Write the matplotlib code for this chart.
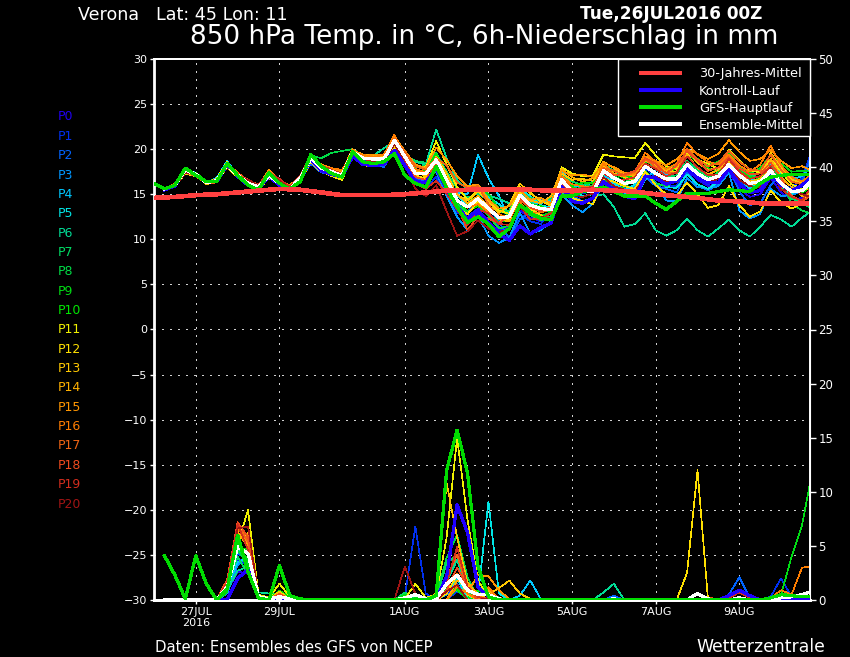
import matplotlib
matplotlib.use("Agg")
import matplotlib.pyplot as plt
from matplotlib.lines import Line2D
from matplotlib.patches import Rectangle

plt.rcParams['lines.antialiased'] = False
plt.rcParams['font.family'] = ['DejaVu Sans']
plt.rcParams['axes.unicode_minus'] = True

W, H = 850, 657
L, R, T, B = 154, 810, 59, 600

hours_gfs = list(range(0, 384, 6))
hours = list(range(6, 384, 6))

clim_hours = [0, 12, 24, 36, 48, 60, 72, 84, 96, 108, 120, 132, 144, 156, 168, 180, 192, 204, 216, 228, 240, 252,
              264, 276, 288, 300, 312, 324, 336, 348, 360, 372, 378]
clim = [14.6, 14.7, 14.9, 15.0, 15.2, 15.4, 15.6, 15.5, 15.2, 14.9, 14.9, 14.9, 15.0, 15.2, 15.4, 15.5, 15.5,
        15.5, 15.5, 15.4, 15.4, 15.5, 15.4, 15.3, 15.0, 14.8, 14.6, 14.3, 14.2, 14.0, 14.0, 14.0, 14.0]

gfs_t = [16.2, 15.6, 16.0, 17.9, 17.1, 16.4, 16.4, 18.4, 17.1, 16.0, 15.5, 17.4, 16.2, 15.6, 16.4, 19.4, 18.1, 17.3,
         16.9, 19.7, 18.6, 18.4, 18.6, 19.5, 17.1, 16.2, 15.8, 18.1, 15.7, 13.6, 11.9, 12.5, 11.7, 10.3, 11.2, 13.8,
         12.9, 12.3, 12.2, 14.8, 14.8, 15.3, 15.5, 15.8, 15.3, 14.8, 14.8, 14.8, 14.0, 13.3, 14.2, 15.1, 15.1, 15.1,
         15.3, 15.5, 15.4, 15.3, 16.2, 16.9, 17.1, 17.2, 17.2, 17.2]
mean_t = [15.6, 16.0, 17.7, 17.2, 16.3, 16.5, 18.3, 17.1, 16.2, 15.8, 17.1, 16.2, 15.6, 16.8, 19.0, 17.9, 17.5, 17.1,
          19.7, 19.0, 18.9, 18.9, 21.0, 19.2, 17.3, 17.3, 18.8, 16.6, 14.3, 13.6, 14.5, 13.4, 12.4, 12.5, 14.9, 13.8,
          13.4, 13.3, 16.6, 15.3, 15.3, 15.3, 17.6, 16.8, 16.2, 16.4, 18.1, 17.3, 16.7, 16.7, 18.3, 17.3, 16.6, 17.0,
          18.3, 17.1, 16.2, 16.4, 17.6, 16.2, 15.3, 15.4, 16.6]
ctrl_t = [15.5, 15.9, 17.8, 17.1, 16.4, 16.4, 18.3, 17.0, 16.0, 15.6, 17.0, 16.0, 15.5, 16.7, 18.9, 17.6, 17.2, 16.9,
          19.2, 18.3, 18.2, 18.3, 19.9, 18.2, 16.4, 16.3, 17.9, 15.6, 13.6, 12.3, 13.2, 11.9, 10.6, 9.9, 11.5, 10.6,
          11.3, 11.8, 15.9, 14.2, 14.0, 14.6, 16.4, 15.5, 14.8, 14.5, 17.0, 16.8, 16.1, 16.5, 17.8, 16.9, 16.3, 16.3,
          17.8, 16.1, 15.2, 15.4, 17.3, 16.0, 15.4, 16.0, 17.0]

P0_t = [15.5, 15.9, 17.6, 17.3, 16.2, 16.4, 18.4, 17.0, 16.1, 15.7, 17.0, 16.1, 15.5, 16.7, 18.9, 17.7, 17.3, 16.9,
        19.5, 18.7, 18.5, 18.6, 20.3, 18.6, 16.6, 16.5, 17.8, 15.3, 13.2, 12.0, 12.8, 11.8, 11.0, 11.3, 13.2, 12.4,
        12.0, 12.6, 15.5, 14.2, 14.0, 14.6, 16.6, 15.9, 15.3, 15.6, 17.2, 16.2, 15.8, 16.0, 17.7, 16.6, 15.9, 16.2,
        17.5, 15.6, 14.7, 15.0, 16.8, 15.2, 14.4, 14.6, 15.5]
P1_t = [15.7, 16.1, 17.8, 17.0, 16.4, 16.6, 18.2, 17.2, 16.3, 15.8, 17.3, 16.1, 15.7, 16.9, 18.8, 17.8, 17.4, 17.1,
        19.9, 18.8, 18.8, 18.9, 20.7, 19.0, 16.8, 15.7, 16.9, 15.0, 13.0, 12.5, 13.4, 12.8, 11.4, 10.2, 12.8, 12.0,
        11.7, 13.1, 16.2, 14.6, 15.1, 15.4, 17.4, 16.3, 15.8, 15.9, 17.9, 16.9, 16.0, 15.9, 17.9, 16.8, 16.1, 16.7,
        18.0, 16.4, 15.7, 15.9, 17.0, 16.1, 15.6, 16.8, 20.0]
P2_t = [15.6, 16.1, 17.5, 17.1, 16.5, 16.5, 18.6, 17.2, 16.0, 15.9, 17.2, 16.3, 15.6, 16.6, 18.4, 17.4, 17.3, 17.0,
        19.6, 18.4, 18.6, 18.0, 20.0, 18.2, 16.9, 16.3, 18.2, 16.2, 14.1, 13.0, 14.6, 13.5, 12.0, 10.0, 12.2, 13.0,
        14.4, 14.3, 17.2, 14.9, 14.2, 14.6, 16.8, 15.2, 14.8, 15.4, 17.0, 15.9, 15.6, 15.2, 17.4, 16.1, 15.4, 16.1,
        18.2, 15.3, 13.8, 14.0, 16.0, 17.3, 17.0, 16.4, 19.6]
P3_t = [15.4, 16.0, 17.7, 17.4, 16.1, 16.7, 18.5, 16.9, 16.4, 16.0, 17.2, 16.4, 15.3, 16.9, 18.6, 18.1, 17.6, 17.3,
        19.4, 18.6, 18.3, 18.7, 20.5, 18.9, 17.0, 16.7, 17.5, 14.8, 12.5, 11.0, 12.6, 10.4, 9.6, 10.2, 13.0, 10.6,
        11.0, 12.0, 15.0, 13.8, 13.0, 14.0, 16.2, 16.0, 15.6, 15.8, 17.6, 16.3, 14.3, 14.2, 16.8, 15.8, 15.6, 15.9,
        17.4, 13.2, 12.3, 12.8, 15.6, 14.8, 14.9, 15.3, 17.4]
P4_t = [15.6, 16.2, 17.9, 17.0, 16.3, 16.8, 18.7, 17.0, 16.2, 15.4, 17.2, 16.3, 15.3, 16.9, 18.7, 17.9, 17.8, 17.4,
        19.8, 19.1, 18.8, 19.0, 20.6, 19.0, 17.4, 17.5, 18.5, 16.2, 15.2, 15.0, 19.4, 16.8, 14.8, 12.3, 15.1, 14.0,
        14.0, 14.3, 17.6, 16.0, 15.8, 16.4, 17.2, 16.2, 15.2, 14.6, 16.6, 17.7, 17.2, 16.6, 18.5, 17.6, 17.0, 16.8,
        18.4, 16.7, 15.6, 16.3, 18.4, 17.3, 16.6, 17.0, 18.2]
P5_t = [15.6, 16.0, 17.6, 17.3, 16.3, 16.4, 18.3, 17.1, 16.3, 15.9, 16.9, 16.2, 15.8, 16.8, 18.9, 17.9, 17.6, 17.0,
        19.9, 19.2, 19.1, 19.1, 20.5, 19.1, 17.6, 17.1, 19.2, 16.9, 14.8, 13.9, 15.7, 14.7, 13.9, 13.0, 15.6, 14.8,
        13.8, 13.5, 17.0, 15.7, 14.8, 15.0, 17.9, 16.3, 15.4, 16.1, 18.3, 17.0, 15.8, 15.7, 17.2, 16.1, 15.6, 16.4,
        18.6, 17.7, 16.6, 16.6, 18.7, 15.7, 15.0, 15.9, 16.3]
P6_t = [15.7, 16.1, 17.9, 17.2, 16.2, 16.3, 18.2, 17.3, 16.1, 15.6, 17.3, 16.3, 15.5, 16.6, 19.2, 18.1, 17.6, 17.2,
        19.8, 19.2, 19.3, 20.1, 20.9, 19.4, 18.6, 18.3, 22.2, 19.0, 16.6, 15.5, 15.6, 14.9, 14.5, 14.0, 15.4, 14.2,
        13.3, 13.0, 15.2, 14.4, 14.0, 14.7, 15.0, 13.6, 11.4, 11.7, 12.9, 11.0, 10.4, 11.0, 12.3, 11.0, 10.3, 11.2,
        12.2, 11.0, 10.3, 11.4, 12.7, 12.2, 11.4, 12.4, 13.2]
P7_t = [15.5, 16.0, 17.8, 17.1, 16.5, 16.6, 18.4, 17.2, 16.2, 15.9, 17.0, 16.1, 15.7, 16.9, 19.1, 18.2, 17.5, 17.1,
        19.6, 19.1, 19.2, 18.8, 20.8, 19.3, 18.7, 18.5, 19.6, 17.5, 15.6, 14.6, 15.1, 14.3, 13.0, 13.2, 15.3, 14.6,
        14.3, 14.5, 17.2, 16.4, 16.0, 16.3, 18.3, 17.6, 17.0, 17.2, 18.9, 17.9, 16.9, 17.1, 18.7, 17.8, 17.0, 17.3,
        19.0, 17.7, 17.1, 16.9, 18.2, 15.8, 14.5, 14.1, 13.3]
P8_t = [15.6, 16.1, 17.7, 17.3, 16.4, 16.5, 18.2, 17.1, 16.3, 15.7, 17.1, 16.4, 15.6, 16.8, 19.3, 19.0, 19.6, 19.8,
        20.0, 19.3, 19.4, 18.9, 20.9, 19.1, 17.9, 18.2, 18.7, 16.4, 13.9, 12.9, 14.0, 12.6, 11.2, 11.5, 13.9, 12.7,
        12.1, 12.6, 16.3, 15.4, 15.8, 16.0, 17.2, 17.0, 16.4, 16.6, 17.6, 16.2, 15.9, 16.5, 18.4, 17.5, 16.8, 17.4,
        18.8, 17.4, 15.9, 16.5, 18.6, 16.4, 14.0, 13.2, 12.8]
P9_t = [15.7, 16.0, 17.6, 17.0, 16.2, 16.6, 18.5, 17.3, 16.0, 15.6, 17.4, 16.2, 15.4, 16.7, 19.2, 17.8, 17.7, 16.8,
        19.5, 19.0, 18.8, 19.0, 20.6, 19.4, 17.6, 17.6, 18.3, 16.0, 14.0, 13.8, 15.8, 15.0, 13.4, 12.6, 14.6, 13.2,
        12.6, 13.0, 16.8, 15.7, 15.6, 15.2, 16.9, 15.6, 15.8, 16.8, 18.6, 18.3, 17.9, 18.3, 19.5, 18.9, 18.3, 18.6,
        19.6, 18.1, 17.3, 17.9, 19.3, 18.4, 17.5, 17.6, 17.5]
P10_t = [15.5, 15.8, 17.5, 17.4, 16.4, 16.3, 18.1, 17.0, 16.4, 15.8, 17.2, 16.3, 15.5, 16.7, 19.0, 17.7, 17.4, 17.2,
         19.3, 18.9, 19.0, 18.8, 20.4, 19.1, 17.2, 17.7, 19.5, 17.0, 14.5, 13.1, 13.7, 12.8, 11.9, 12.1, 14.4, 13.9,
         13.7, 13.0, 16.4, 15.9, 16.3, 16.2, 18.2, 17.3, 16.8, 17.1, 19.1, 18.2, 17.5, 17.8, 19.7, 18.5, 17.9, 17.6,
         18.9, 17.6, 16.9, 16.8, 17.6, 15.9, 15.3, 15.2, 15.9]
P11_t = [15.6, 15.9, 17.3, 17.0, 16.3, 16.7, 18.6, 17.0, 16.1, 15.9, 17.1, 16.0, 15.7, 17.0, 18.7, 17.6, 17.0, 16.6,
         19.3, 18.4, 18.7, 18.4, 20.2, 18.8, 18.2, 18.0, 20.9, 18.3, 15.8, 14.4, 15.4, 14.1, 13.2, 12.8, 15.8, 15.2,
         14.2, 13.9, 18.0, 17.3, 17.0, 17.1, 19.4, 19.2, 19.1, 19.0, 20.7, 19.3, 18.1, 17.8, 19.6, 18.8, 18.4, 17.8,
         19.9, 18.8, 17.7, 17.4, 18.9, 17.5, 16.1, 15.6, 15.5]
P12_t = [15.4, 16.0, 17.4, 17.2, 16.1, 16.4, 18.0, 16.9, 16.2, 15.5, 16.8, 16.1, 15.4, 16.5, 18.6, 17.5, 17.1, 16.7,
         19.2, 18.2, 18.1, 18.5, 20.4, 18.5, 17.1, 16.7, 18.0, 15.5, 13.4, 12.8, 14.2, 13.1, 12.5, 12.1, 15.2, 13.4,
         12.7, 12.0, 15.7, 14.6, 14.2, 13.9, 16.7, 16.4, 15.9, 15.6, 17.5, 16.0, 15.0, 14.8, 16.3, 15.0, 13.5, 13.8,
         15.9, 13.8, 12.5, 13.1, 15.4, 14.1, 13.4, 14.0, 16.0]
P13_t = [15.5, 15.9, 17.5, 17.2, 16.1, 16.5, 18.3, 17.2, 16.4, 16.0, 17.5, 16.4, 15.8, 16.8, 18.9, 18.0, 17.7, 17.4,
         19.8, 19.3, 19.1, 19.2, 21.1, 19.5, 17.8, 16.9, 19.2, 17.3, 14.9, 14.3, 15.3, 14.2, 12.9, 13.8, 16.2, 15.1,
         14.3, 13.7, 17.3, 16.6, 16.7, 16.5, 18.1, 17.3, 16.9, 16.5, 18.9, 18.1, 17.6, 17.5, 19.9, 18.5, 17.7, 17.9,
         18.6, 17.0, 16.4, 16.7, 19.6, 17.9, 16.6, 16.3, 16.7]
P14_t = [15.6, 16.0, 17.8, 17.3, 16.2, 16.4, 18.2, 17.1, 16.2, 15.9, 17.6, 16.6, 15.9, 16.8, 18.9, 18.2, 17.8, 17.5,
         19.9, 19.4, 19.3, 19.0, 21.3, 19.6, 17.5, 17.2, 18.6, 16.8, 15.0, 14.0, 14.8, 13.6, 12.2, 12.0, 14.8, 14.3,
         14.0, 14.8, 17.8, 16.9, 16.4, 16.8, 18.6, 17.9, 17.3, 17.0, 18.7, 18.2, 17.7, 18.0, 19.4, 17.9, 17.2, 17.7,
         19.2, 17.4, 16.3, 15.9, 18.9, 16.9, 15.8, 14.8, 15.0]
P15_t = [15.5, 16.1, 17.7, 17.1, 16.4, 16.6, 18.1, 17.2, 16.4, 16.0, 17.7, 16.5, 16.0, 17.0, 19.2, 18.3, 17.9, 17.6,
         20.0, 19.2, 19.4, 19.3, 21.4, 19.8, 18.3, 17.9, 20.2, 18.8, 17.0, 15.9, 16.1, 14.4, 13.4, 13.7, 15.5, 14.4,
         14.6, 14.0, 17.6, 17.1, 17.2, 16.9, 18.5, 18.0, 17.4, 17.2, 19.2, 18.7, 18.2, 18.9, 20.0, 19.5, 18.9, 19.5,
         21.0, 19.7, 18.7, 18.9, 19.9, 18.7, 17.9, 18.1, 17.6]
P16_t = [15.6, 16.2, 17.6, 17.2, 16.3, 16.5, 18.4, 17.4, 16.5, 15.9, 17.6, 16.5, 15.7, 16.9, 19.1, 18.0, 17.9, 17.7,
         19.6, 19.4, 19.1, 19.4, 21.6, 19.3, 17.8, 17.4, 18.1, 16.2, 14.4, 13.5, 13.9, 13.0, 12.8, 12.3, 14.1, 12.9,
         13.0, 13.3, 17.0, 16.1, 15.9, 15.7, 18.4, 17.2, 17.0, 17.4, 19.6, 18.6, 17.8, 18.4, 20.7, 19.4, 18.6, 18.3,
         19.4, 18.2, 17.5, 18.3, 20.4, 18.2, 16.9, 16.4, 17.3]
P17_t = [15.7, 16.1, 17.4, 17.0, 16.2, 16.3, 18.2, 17.0, 16.5, 16.1, 17.3, 16.6, 15.7, 16.8, 18.8, 18.0, 17.6, 17.3,
         19.6, 18.6, 18.4, 18.8, 21.2, 19.7, 18.1, 17.7, 19.0, 18.2, 16.3, 15.7, 15.9, 13.9, 12.3, 12.7, 14.3, 13.6,
         13.4, 13.2, 16.9, 15.6, 15.4, 15.9, 17.9, 17.6, 17.1, 17.5, 18.9, 18.0, 17.4, 17.3, 20.0, 18.9, 18.1, 18.5,
         19.8, 18.6, 17.8, 17.6, 19.4, 17.7, 16.4, 16.1, 16.2]
P18_t = [15.5, 15.8, 17.5, 17.1, 16.5, 16.4, 18.0, 17.3, 16.6, 16.0, 17.5, 16.6, 15.9, 17.0, 19.0, 17.8, 17.5, 17.4,
         19.8, 18.8, 19.0, 19.1, 20.8, 18.9, 16.9, 16.6, 18.3, 15.9, 13.7, 11.0, 12.6, 12.3, 11.8, 12.6, 14.6, 13.5,
         13.1, 13.6, 16.1, 15.0, 15.5, 15.6, 17.8, 17.1, 17.2, 17.6, 19.0, 18.4, 17.3, 18.2, 19.8, 18.7, 17.6, 18.0,
         19.1, 17.9, 17.2, 17.3, 18.5, 16.8, 14.8, 14.2, 15.0]
P19_t = [15.6, 15.9, 17.6, 17.2, 16.4, 16.6, 18.3, 17.1, 16.3, 16.1, 17.4, 16.7, 15.8, 17.1, 19.3, 18.2, 17.7, 17.3,
         19.7, 18.9, 18.7, 18.9, 21.0, 18.7, 16.2, 15.6, 16.5, 15.1, 13.3, 11.6, 13.3, 12.9, 11.7, 11.6, 13.7, 12.2,
         12.3, 12.9, 16.6, 15.2, 15.7, 15.8, 17.3, 16.7, 16.6, 16.9, 18.4, 17.8, 17.0, 17.4, 19.2, 18.0, 17.1, 17.2,
         18.9, 17.5, 16.7, 17.0, 18.1, 15.6, 14.7, 14.3, 16.0]
P20_t = [15.5, 15.8, 17.4, 17.3, 16.3, 16.5, 18.1, 17.0, 16.6, 16.0, 17.2, 16.5, 15.6, 16.6, 18.7, 17.6, 17.3, 17.2,
         19.5, 18.5, 18.6, 18.4, 20.6, 18.4, 15.6, 14.8, 16.0, 13.1, 10.4, 10.9, 12.1, 11.2, 10.8, 11.1, 13.5, 12.8,
         12.5, 12.3, 15.4, 14.8, 14.7, 15.1, 16.9, 15.9, 15.5, 15.3, 16.9, 17.0, 16.4, 16.3, 18.6, 17.1, 16.2, 16.8,
         18.3, 16.6, 15.9, 15.8, 17.9, 15.4, 15.6, 15.0, 14.6]

member_t = [P0_t, P1_t, P2_t, P3_t, P4_t, P5_t, P6_t, P7_t, P8_t, P9_t, P10_t, P11_t, P12_t, P13_t, P14_t, P15_t,
            P16_t, P17_t, P18_t, P19_t, P20_t]

# rain: hour -> mm, hours not listed had none
gfs_r = {6: 4.1, 12: 2.3, 18: 0.1, 24: 4.1, 30: 1.5, 42: 1.0, 48: 6.0, 54: 2.6, 60: 0.2, 72: 3.2, 78: 0.4, 84: 0.1,
         162: 0.4, 168: 12.0, 174: 15.7, 180: 11.7, 186: 3.1, 192: 0.3, 354: 0.2, 360: 0.5, 366: 0.4, 372: 0.3, 378: 0.3}
mean_r = {42: 1.2, 48: 4.9, 54: 4.3, 60: 0.3, 66: 0.1, 72: 0.3, 78: 0.1, 144: 0.2, 150: 0.5, 156: 0.1, 162: 0.1,
          168: 1.5, 174: 2.3, 180: 0.9, 186: 0.5, 192: 0.5, 198: 0.1, 264: 0.1, 312: 0.6, 318: 0.1, 336: 0.2,
          354: 0.1, 360: 0.2, 366: 0.3, 372: 0.5, 378: 0.8}
ctrl_r = {48: 2.0, 54: 2.8, 60: 0.3, 72: 0.3, 168: 2.2, 174: 8.8, 180: 6.2, 186: 1.2, 192: 0.3, 330: 0.4, 336: 0.9, 342: 0.4}
P0_r = {42: 0.8, 48: 2.6, 54: 2.5, 60: 0.3, 72: 0.2, 168: 0.6, 174: 1.2, 180: 0.4, 354: 0.1}
P1_r = {42: 0.9, 48: 3.8, 54: 3.2, 60: 0.2, 72: 0.4, 144: 0.3, 150: 6.8, 156: 0.6, 174: 0.8, 180: 0.2, 354: 0.3, 360: 2.0, 366: 0.3}
P2_r = {42: 1.1, 48: 4.4, 54: 3.5, 72: 0.3, 168: 1.0, 174: 1.5, 186: 0.3, 264: 0.4, 330: 0.5, 336: 2.1, 342: 0.2}
P3_r = {42: 0.6, 48: 3.2, 54: 4.1, 60: 0.2, 72: 0.6, 168: 0.5, 174: 0.9, 180: 0.6, 192: 0.2, 204: 0.1}
P4_r = {42: 1.2, 48: 3.5, 54: 3.9, 60: 0.3, 72: 0.4, 174: 1.3, 180: 0.3, 186: 0.2, 192: 1.0, 210: 0.4, 216: 1.8, 222: 0.1}
P5_r = {36: 0.1, 42: 1.4, 48: 5.0, 54: 2.9, 72: 0.2, 168: 0.7, 174: 2.0, 180: 0.2, 186: 0.4, 192: 9.1, 198: 0.6}
P6_r = {42: 0.9, 48: 2.7, 54: 3.1, 60: 0.7, 66: 0.6, 72: 0.5, 168: 1.7, 174: 3.7, 180: 0.8, 258: 0.7, 264: 1.5}
P7_r = {42: 1.3, 48: 4.0, 54: 2.4, 60: 0.2, 72: 0.3, 144: 0.7, 162: 0.2, 168: 3.4, 174: 4.2, 180: 0.5, 192: 0.8, 198: 0.2}
P8_r = {42: 1.0, 48: 4.6, 54: 3.3, 60: 0.1, 72: 0.2, 162: 0.5, 168: 3.9, 174: 6.0, 180: 2.1, 186: 0.2}
P9_r = {42: 0.7, 48: 5.3, 54: 3.6, 72: 0.5, 144: 0.5, 150: 0.3, 174: 1.0, 186: 0.4, 360: 0.5, 366: 4.0, 372: 6.9, 378: 12.0}
P10_r = {42: 1.1, 48: 4.8, 54: 4.7, 60: 0.4, 72: 0.9, 78: 0.2, 168: 1.2, 174: 0.9, 180: 0.2, 186: 0.9, 192: 0.3}
P11_r = {42: 1.5, 48: 5.2, 54: 8.3, 60: 0.5, 66: 0.2, 72: 1.5, 78: 0.3, 144: 0.1, 150: 1.5, 156: 0.2, 162: 0.5, 168: 5.8,
         174: 15.0, 180: 7.4, 186: 1.8, 192: 0.3}
P12_r = {42: 1.3, 48: 6.0, 54: 5.6, 60: 0.3, 72: 0.7, 168: 0.6, 174: 2.3, 180: 0.5, 306: 2.5, 312: 12.0, 318: 0.1}
P13_r = {42: 1.6, 48: 5.5, 54: 6.2, 60: 0.2, 72: 0.8, 162: 0.6, 168: 10.8, 174: 5.8, 180: 1.5, 186: 0.2, 192: 0.5,
         198: 1.1, 204: 1.8, 210: 0.6, 216: 0.1}
P14_r = {42: 1.2, 48: 6.3, 54: 4.9, 60: 0.3, 72: 0.4, 174: 1.8, 180: 1.6, 186: 0.5, 192: 0.9}
P15_r = {42: 1.8, 48: 6.7, 54: 5.2, 60: 0.2, 72: 0.5, 168: 1.4, 174: 2.4, 180: 0.7, 186: 2.3, 192: 2.2, 198: 0.9, 204: 0.1}
P16_r = {42: 1.7, 48: 6.5, 54: 6.0, 60: 0.4, 72: 0.3, 174: 1.2, 180: 0.6, 192: 1.2, 354: 0.2, 360: 0.9, 366: 0.5, 372: 3.0, 378: 3.1}
P17_r = {42: 1.4, 48: 6.9, 54: 5.4, 60: 0.2, 72: 0.2, 168: 2.0, 174: 4.2, 180: 0.9, 186: 0.4, 192: 0.6, 198: 0.2}
P18_r = {6: 0.1, 42: 1.9, 48: 7.2, 54: 5.8, 60: 0.3, 72: 0.6, 162: 0.1, 168: 0.9, 174: 3.0, 180: 1.1, 192: 0.3, 318: 0.2, 324: 0.1}
P19_r = {42: 1.6, 48: 7.0, 54: 4.6, 60: 0.1, 72: 0.4, 168: 1.5, 174: 4.9, 180: 1.2, 186: 0.3, 330: 0.2, 336: 0.7, 342: 0.2}
P20_r = {42: 1.0, 48: 6.6, 54: 6.8, 60: 0.4, 72: 0.2, 144: 3.1, 150: 0.6, 168: 0.8, 174: 1.4, 192: 0.2}
member_r = [P0_r, P1_r, P2_r, P3_r, P4_r, P5_r, P6_r, P7_r, P8_r, P9_r, P10_r, P11_r, P12_r, P13_r, P14_r, P15_r,
            P16_r, P17_r, P18_r, P19_r, P20_r]

member_names = ['P%d' % i for i in range(21)]
member_colors = ['#2000f0', '#0030f0', '#0064ff', '#0096ff', '#00c8ff', '#00e6e6', '#00dc96', '#00dc64', '#00dc46',
                 '#00dc14', '#00e600', '#f0f000', '#ffe000', '#ffc800', '#ffb000', '#ff9600', '#ff7d00', '#f06414',
                 '#f04b1e', '#d22d1e', '#a01414']

date_ticks = [24, 72, 144, 192, 240, 288, 336]
date_labels = ['27JUL\n2016', '29JUL', '1AUG', '3AUG', '5AUG', '7AUG', '9AUG']
temp_ticks = list(range(-30, 35, 5))
rain_ticks = list(range(0, 55, 5))
legend_labels = ['30-Jahres-Mittel', 'Kontroll-Lauf', 'GFS-Hauptlauf', 'Ensemble-Mittel']

fig = plt.figure(figsize=(W / 100, H / 100), dpi=100, facecolor='black')
ax = fig.add_axes([L / W, 1 - B / H, (R - L) / W, (B - T) / H], facecolor='black')
ax2 = ax.twinx()
ax2.patch.set_visible(False)
ax.set_zorder(1)
ax2.set_zorder(2)

ax.set_xlim(0, (R - L) / 1.742)
ax.set_ylim(-30, 30)
ax2.set_ylim(0, 50)

thin = 0.45
thick = 1.6
for vals, rain, col in zip(member_t, member_r, member_colors):
    ax.plot(hours, vals, color=col, lw=thin, zorder=2)
    ax2.plot(hours, [rain.get(h, 0) for h in hours], color=col, lw=thin, zorder=2)

ax.plot(hours, ctrl_t, color='#2000ff', lw=thick, zorder=3)
ax.plot(hours, mean_t, color='white', lw=thick, zorder=4)
ax.plot(hours_gfs, gfs_t, color='#00dc00', lw=thick, zorder=5)
ax.plot(clim_hours, clim, color='#ff4040', lw=2.6, zorder=6)

ax2.plot(hours, [ctrl_r.get(h, 0) for h in hours], color='#2000ff', lw=thick, zorder=3)
ax2.plot(hours, [mean_r.get(h, 0) for h in hours], color='white', lw=thick, zorder=4)
ax2.plot(hours, [gfs_r.get(h, 0) for h in hours], color='#00dc00', lw=thick, zorder=5)

ax.set_xticks(date_ticks)
ax.set_xticklabels(date_labels, color='white', fontsize=8, linespacing=1.1)
ax.set_yticks(temp_ticks)
ax.set_yticklabels([str(t).replace('-', '\u2212') for t in temp_ticks], color='white', fontsize=8)
ax2.set_yticks(rain_ticks)
ax2.set_yticklabels([str(t) for t in rain_ticks], color='white', fontsize=8.5)
ax.tick_params(axis='both', colors='white', length=3, width=1, pad=2)
ax2.tick_params(axis='y', colors='white', length=4, width=1, pad=2)
ax.grid(True, color='#d0d0d0', lw=0.7, linestyle=(0, (1.4, 7.0)), zorder=1)
ax.set_axisbelow(True)

for a in (ax, ax2):
    for s in a.spines.values():
        s.set_color('white')
ax.spines['left'].set_linewidth(2)
ax.spines['bottom'].set_linewidth(2)
ax.spines['top'].set_linewidth(1.4)
ax2.spines['left'].set_visible(False)
ax2.spines['right'].set_linewidth(1.4)
ax2.spines['bottom'].set_linewidth(2)
ax2.spines['top'].set_linewidth(1.4)

ax2.add_patch(Rectangle((618 / W, 1 - 136 / H), 192 / W, 77 / H, transform=fig.transFigure, facecolor='black',
                        edgecolor='white', lw=1.0, zorder=15, clip_on=False))
handles = [Line2D([], [], color='#ff4040', lw=thick), Line2D([], [], color='#2000ff', lw=thick),
           Line2D([], [], color='#00dc00', lw=thick), Line2D([], [], color='white', lw=thick)]
leg = ax2.legend(handles, legend_labels, loc='upper left', bbox_to_anchor=(641 / W, 1 - 67.5 / H),
                 bbox_transform=fig.transFigure, frameon=False, fontsize=9.3, labelcolor='white', handlelength=3.05,
                 handletextpad=1.45, labelspacing=0.32, borderpad=0, borderaxespad=0)
leg.set_zorder(20)


def put(x, y, s, **kw):
    fig.text(x / W, 1 - y / H, s, va='center', **kw)


put(78, 15, 'Verona   Lat: 45 Lon: 11', color='white', fontsize=12.6)
put(580, 14, 'Tue,26JUL2016 00Z', color='white', fontsize=12.2, fontweight='bold')
put(190, 37, '850 hPa Temp. in \u00b0C, 6h-Niederschlag in mm', color='white', fontsize=18.9)
put(155, 647, 'Daten: Ensembles des GFS von NCEP', color='white', fontsize=10.7)
put(696, 647, 'Wetterzentrale', color='white', fontsize=12.4)
for i, (name, col) in enumerate(zip(member_names, member_colors)):
    put(58, 117 + 19.35 * i, name, color=col, fontsize=9)

fig.savefig('out.png', dpi=100, facecolor='black')
